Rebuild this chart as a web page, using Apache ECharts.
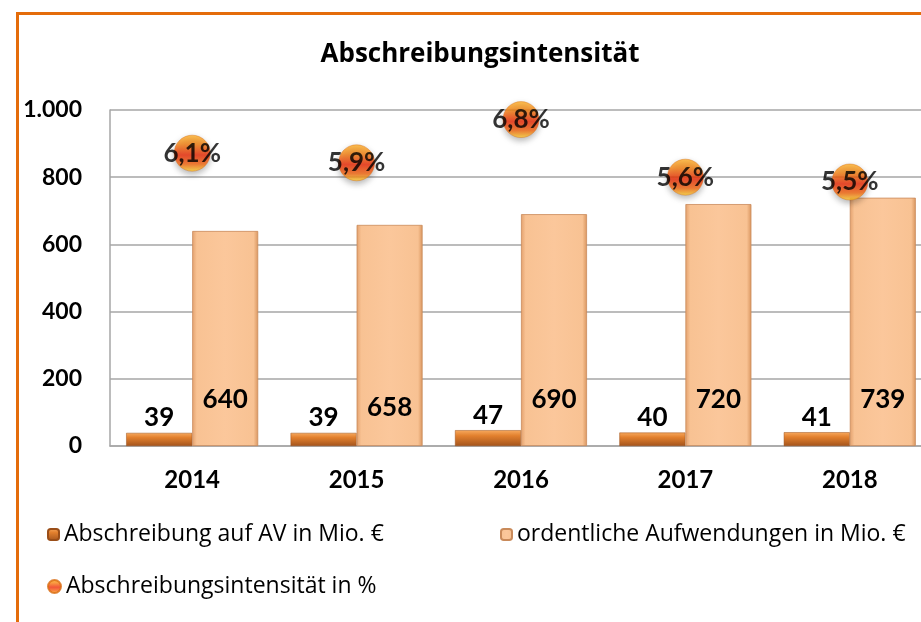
<!DOCTYPE html>
<html>
<head>
<meta charset="utf-8">
<script src="https://cdn.jsdelivr.net/npm/echarts@6/dist/echarts.min.js"></script>
<style>
  html, body { margin: 0; padding: 0; background: #fff; overflow: hidden; }
  #chart { width: 940px; height: 622px; }
</style>
</head>
<body>
<div id="chart"></div>
<script>
// Jahre und Kennzahlen
const years = ['2014', '2015', '2016', '2017', '2018'];
const abschreibung = [39, 39, 47, 40, 41];          // Mio. €
const aufwendungen = [640, 658, 690, 720, 739];     // Mio. €
const intensitaet = [6.1, 5.9, 6.8, 5.6, 5.5];      // %
const yTicks = [0, 200, 400, 600, 800, 1000];

const FONT = 'Lato, "Open Sans", sans-serif';
const FONT_WIDE = '"Open Sans", Lato, sans-serif';
const deNumber = v => String(v).replace(/\B(?=(\d{3})+(?!\d))/g, '.');
const dePercent = v => v.toFixed(1).replace('.', ',') + '%';

const darkBar = new echarts.graphic.LinearGradient(0, 0, 0, 1, [
  { offset: 0, color: '#F7A95E' },
  { offset: 0.35, color: '#E2802E' },
  { offset: 1, color: '#A4541C' }
]);
const lightBar = new echarts.graphic.LinearGradient(0, 0, 1, 0, [
  { offset: 0, color: '#E3A06C' },
  { offset: 0.07, color: '#F8C293' },
  { offset: 0.5, color: '#FBC79B' },
  { offset: 0.93, color: '#F8C293' },
  { offset: 1, color: '#D9955E' }
]);
const ball = new echarts.graphic.LinearGradient(0, 0, 0, 1, [
  { offset: 0, color: '#FFB428' },
  { offset: 0.25, color: '#F88412' },
  { offset: 0.55, color: '#EE2C08' },
  { offset: 0.8, color: '#F66A12' },
  { offset: 1, color: '#FFD434' }
]);

const legendText = { fontFamily: FONT_WIDE, fontSize: 23, color: '#000' };

const chart = echarts.init(document.getElementById('chart'), null, { renderer: 'canvas' });

chart.setOption({
  animation: false,
  backgroundColor: '#fff',
  textStyle: { fontFamily: FONT },
  title: {
    text: 'Abschreibungsintensität',
    left: 475,
    top: 37,
    textAlign: 'center',
    textStyle: { fontFamily: FONT_WIDE, fontSize: 26, fontWeight: 'bold', color: '#000' }
  },
  graphic: [{
    type: 'rect',
    shape: { x: 17.5, y: 13.5, width: 1000, height: 700 },
    style: { fill: 'none', stroke: '#E46C0A', lineWidth: 3 },
    silent: true,
    z: 100
  }],
  legend: [
    {
      data: ['Abschreibung auf AV in Mio. €'],
      left: 42, top: 518,
      itemWidth: 11, itemHeight: 11,
      textStyle: legendText
    },
    {
      data: ['ordentliche Aufwendungen in Mio. €'],
      left: 495, top: 518,
      itemWidth: 11, itemHeight: 11,
      textStyle: legendText
    },
    {
      data: [{ name: 'Abschreibungsintensität in %', icon: 'circle' }],
      left: 42, top: 570,
      itemWidth: 13, itemHeight: 13,
      textStyle: legendText
    }
  ],
  grid: { left: 110, top: 110, height: 336, width: 822, containLabel: false },
  xAxis: {
    type: 'category',
    data: years,
    axisLine: { show: true, lineStyle: { color: '#A6A6A6', width: 1.5 } },
    axisTick: { show: false },
    axisLabel: { margin: 22, fontFamily: FONT, fontSize: 24, fontWeight: 'bold', color: '#000' }
  },
  yAxis: [
    {
      type: 'value',
      min: yTicks[0],
      max: yTicks[yTicks.length - 1],
      interval: yTicks[1] - yTicks[0],
      axisLine: { show: true, lineStyle: { color: '#A6A6A6', width: 1.5 } },
      axisTick: { show: false },
      splitLine: { lineStyle: { color: '#A6A6A6', width: 1.5 } },
      axisLabel: {
        margin: 28, fontFamily: FONT, fontSize: 23, fontWeight: 'bold', color: '#000',
        formatter: v => deNumber(v)
      }
    },
    { type: 'value', min: 0, max: 7, show: false }
  ],
  series: [
    {
      name: 'Abschreibung auf AV in Mio. €',
      type: 'bar',
      data: abschreibung,
      barWidth: 66,
      barGap: '0%',
      itemStyle: { color: darkBar, borderColor: '#9A4E18', borderWidth: 0.5 },
      label: {
        show: true, position: 'top', distance: 2,
        fontFamily: FONT, fontSize: 26, fontWeight: 'bold', color: '#000'
      }
    },
    {
      name: 'ordentliche Aufwendungen in Mio. €',
      type: 'bar',
      data: aufwendungen.map((v, i) => i === 1
        ? { value: v, label: { distance: 25 } }
        : v),
      barWidth: 66,
      itemStyle: { color: lightBar, borderColor: '#C98A5A', borderWidth: 0.8 },
      label: {
        show: true, position: 'insideBottom', distance: 33,
        fontFamily: FONT, fontSize: 26, fontWeight: 'bold', color: '#000'
      }
    },
    {
      name: 'Abschreibungsintensität in %',
      type: 'scatter',
      yAxisIndex: 1,
      data: intensitaet,
      symbol: 'circle',
      symbolSize: 36,
      z: 5,
      itemStyle: {
        color: ball,
        borderColor: '#D86A10', borderWidth: 0.5,
        shadowBlur: 6, shadowColor: 'rgba(0,0,0,0.35)', shadowOffsetY: 3
      },
      label: {
        show: true, position: 'inside',
        formatter: p => dePercent(p.value),
        fontFamily: FONT, fontSize: 26, fontWeight: 'bold', color: '#000'
      }
    }
  ]
});
</script>
</body>
</html>
